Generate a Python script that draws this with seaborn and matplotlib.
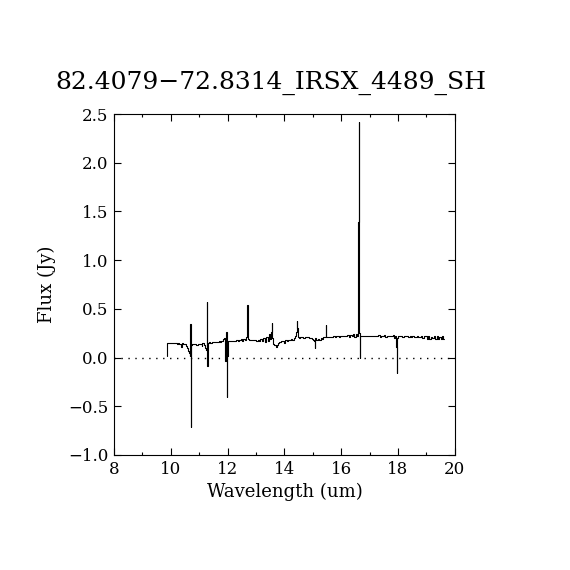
import matplotlib
matplotlib.use("Agg")
import matplotlib.pyplot as plt
import seaborn as sns
import pandas as pd
from matplotlib.ticker import MultipleLocator

title = "82.4079\u221272.8314_IRSX_4489_SH"

wavelength = [
    9.87, 9.88, 9.93, 9.98, 10.03, 10.08, 10.13, 10.18, 10.23, 10.28, 10.33, 10.36, 10.40, 10.45,
    10.50, 10.55, 10.58, 10.62, 10.65, 10.67, 10.69, 10.70, 10.72, 10.77, 10.82, 10.87, 10.92,
    10.97, 11.02, 11.07, 11.10, 11.13, 11.17, 11.20, 11.23, 11.26, 11.28, 11.29, 11.31, 11.36,
    11.41, 11.46, 11.51, 11.56, 11.61, 11.66, 11.71, 11.76, 11.80, 11.84, 11.88, 11.91, 11.94,
    11.96, 11.98, 12.00, 12.03, 12.08, 12.13, 12.18, 12.23, 12.28, 12.33, 12.38, 12.43, 12.48,
    12.53, 12.58, 12.63, 12.66, 12.69, 12.71, 12.73, 12.78, 12.83, 12.88, 12.93, 12.98, 13.03,
    13.08, 13.13, 13.18, 13.23, 13.28, 13.33, 13.38, 13.43, 13.48, 13.52, 13.55, 13.57, 13.59,
    13.62, 13.67, 13.72, 13.76, 13.80, 13.85, 13.90, 13.95, 14.00, 14.05, 14.10, 14.15, 14.20,
    14.25, 14.30, 14.35, 14.40, 14.43, 14.45, 14.47, 14.49, 14.54, 14.59, 14.64, 14.69, 14.74,
    14.79, 14.84, 14.89, 14.94, 14.99, 15.03, 15.06, 15.08, 15.10, 15.15, 15.20, 15.25, 15.30,
    15.35, 15.40, 15.45, 15.47, 15.49, 15.54, 15.59, 15.64, 15.69, 15.74, 15.79, 15.84, 15.89,
    15.94, 15.99, 16.04, 16.09, 16.14, 16.19, 16.24, 16.29, 16.34, 16.39, 16.44, 16.49, 16.54,
    16.58, 16.60, 16.62, 16.63, 16.64, 16.66, 16.68, 16.73, 16.78, 16.83, 16.88, 16.93, 16.98,
    17.03, 17.08, 17.13, 17.18, 17.23, 17.28, 17.33, 17.38, 17.43, 17.48, 17.53, 17.58, 17.63,
    17.68, 17.73, 17.78, 17.83, 17.88, 17.91, 17.93, 17.95, 17.96, 17.97, 17.99, 18.03, 18.08,
    18.13, 18.18, 18.23, 18.28, 18.33, 18.38, 18.43, 18.48, 18.53, 18.58, 18.63, 18.68, 18.73,
    18.78, 18.83, 18.88, 18.93, 18.98, 19.03, 19.08, 19.13, 19.18, 19.23, 19.28, 19.33, 19.38,
    19.43, 19.48, 19.53, 19.58, 19.61,
]

flux = [
    0.02, 0.150, 0.148, 0.152, 0.146, 0.149, 0.145, 0.147, 0.143, 0.146, 0.140, 0.105, 0.145, 0.142,
    0.139, 0.120, 0.100, 0.070, 0.050, 0.020, 0.345, -0.710, 0.130, 0.138, 0.135, 0.137, 0.133,
    0.140, 0.138, 0.142, 0.120, 0.145, 0.150, 0.130, 0.100, 0.080, 0.570, -0.090, 0.150, 0.155,
    0.150, 0.156, 0.158, 0.155, 0.162, 0.158, 0.165, 0.160, 0.175, 0.190, 0.200, 0.050, -0.040,
    0.265, -0.400, 0.020, 0.165, 0.168, 0.170, 0.165, 0.175, 0.172, 0.178, 0.175, 0.180, 0.190,
    0.170, 0.195, 0.180, 0.210, 0.540, 0.420, 0.190, 0.185, 0.180, 0.183, 0.178, 0.182, 0.175,
    0.180, 0.170, 0.190, 0.175, 0.200, 0.160, 0.210, 0.170, 0.240, 0.190, 0.260, 0.355, 0.200,
    0.140, 0.130, 0.110, 0.125, 0.150, 0.160, 0.170, 0.175, 0.150, 0.180, 0.170, 0.185, 0.180,
    0.190, 0.185, 0.200, 0.220, 0.260, 0.375, 0.300, 0.210, 0.205, 0.210, 0.207, 0.205, 0.210,
    0.206, 0.208, 0.205, 0.200, 0.190, 0.180, 0.170, 0.095, 0.200, 0.180, 0.195, 0.185, 0.200,
    0.195, 0.210, 0.215, 0.335, 0.215, 0.215, 0.212, 0.215, 0.213, 0.218, 0.215, 0.220, 0.217,
    0.215, 0.220, 0.218, 0.225, 0.220, 0.225, 0.230, 0.215, 0.235, 0.220, 0.240, 0.210, 0.245,
    0.220, 1.395, 1.395, 2.420, 0.250, -0.007, 0.225, 0.222, 0.225, 0.223, 0.220, 0.225, 0.222,
    0.225, 0.223, 0.220, 0.218, 0.222, 0.220, 0.230, 0.215, 0.225, 0.220, 0.230, 0.210, 0.222,
    0.218, 0.225, 0.220, 0.230, 0.200, 0.220, 0.150, 0.110, -0.160, 0.120, 0.200, 0.220, 0.218,
    0.220, 0.215, 0.220, 0.218, 0.222, 0.215, 0.220, 0.212, 0.218, 0.215, 0.212, 0.218, 0.210,
    0.215, 0.220, 0.205, 0.225, 0.220, 0.195, 0.220, 0.190, 0.215, 0.200, 0.225, 0.190, 0.220,
    0.195, 0.215, 0.190, 0.220, 0.195,
]

x_ticks = [8, 10, 12, 14, 16, 18, 20]
y_ticks = [-1.0, -0.5, 0.0, 0.5, 1.0, 1.5, 2.0, 2.5]

df = pd.DataFrame({"wavelength": wavelength, "flux": flux})

sns.set_theme(style="ticks")
plt.rcParams["font.family"] = ["DejaVu Serif"]
plt.rcParams["axes.unicode_minus"] = True
plt.rcParams["text.color"] = "black"
plt.rcParams["axes.labelcolor"] = "black"
plt.rcParams["xtick.color"] = "black"
plt.rcParams["ytick.color"] = "black"

fig = plt.figure(figsize=(5.7, 5.7), dpi=100)
ax = fig.add_axes([0.2, 0.2018, 0.598, 0.5982])

sns.lineplot(data=df, x="wavelength", y="flux", ax=ax, color="black",
             linewidth=0.8, estimator=None, sort=False, drawstyle="steps-mid")
ax.axhline(0.0, color="black", linewidth=1.0, linestyle=(0, (1, 4)))

ax.set_xlim(8, 20)
ax.set_ylim(-1.0, 2.5)
ax.set_xticks(x_ticks)
ax.set_yticks(y_ticks)
ax.set_xticklabels([str(t) for t in x_ticks])
ax.set_yticklabels([f"{t:.1f}".replace("-", "\u2212") for t in y_ticks])
ax.xaxis.set_minor_locator(MultipleLocator(1))
ax.tick_params(which="both", direction="in", top=True, right=True, colors="black",
               labelcolor="black", labelsize=12, width=0.8)
ax.tick_params(which="major", length=5, pad=4)
ax.tick_params(which="minor", length=2.5)
for s in ax.spines.values():
    s.set_linewidth(0.8)
    s.set_color("black")

ax.set_xlabel("Wavelength (um)", fontsize=13, labelpad=4, color="black")
ax.set_ylabel("Flux (Jy)", fontsize=13, labelpad=9, color="black")
ax.set_title(title, fontsize=18, pad=18, x=0.46, color="black")

fig.savefig("out.png", dpi=100, facecolor="white")
